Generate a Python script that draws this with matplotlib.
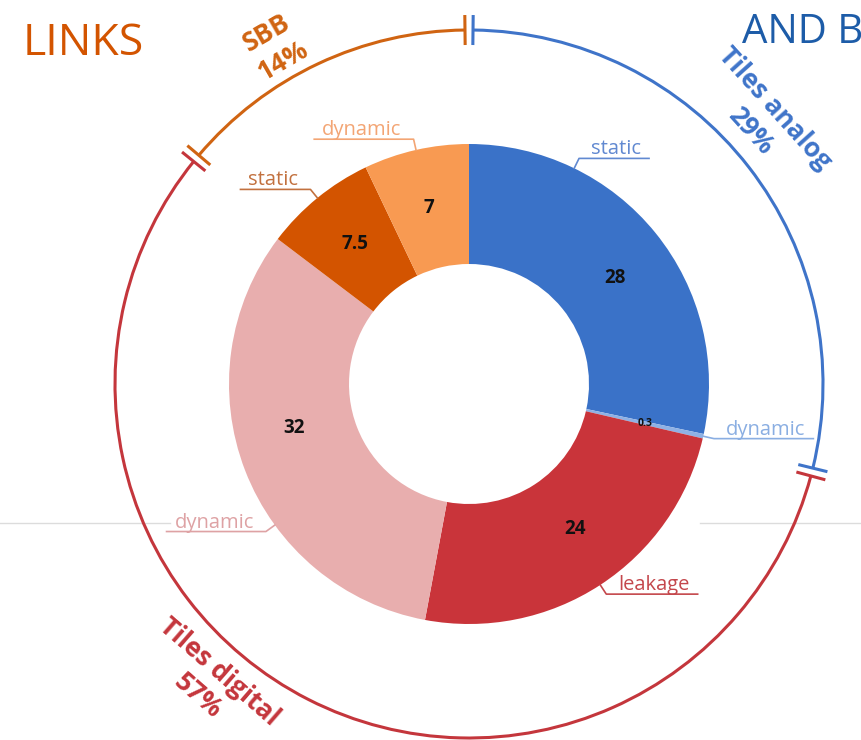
import matplotlib
matplotlib.use("Agg")
import matplotlib.pyplot as plt
import numpy as np
from matplotlib.lines import Line2D
from matplotlib.patches import Arc

# ---- power breakdown data ----
segment_values = [28, 0.3, 24, 32, 7.5, 7]
segment_value_labels = ["28", "0.3", "24", "32", "7.5", "7"]
segment_names = ["static", "dynamic", "leakage", "dynamic", "static", "dynamic"]
group_names = ["Tiles analog", "Tiles digital", "SBB"]
group_shares = [29, 57, 14]          # percent of total
group_share_labels = ["29%", "57%", "14%"]

# ---- styling ----
segment_colors = ["#3a72c8", "#8fb1e4", "#c9343a", "#e8aeae", "#d35400", "#f89a52"]
name_colors = ["#6189d1", "#8aaee2", "#c4474c", "#dea2a4", "#c2713f", "#f3a574"]
group_colors = ["#3f74c9", "#c4363c", "#d06412"]

W, H = 862, 740
CX, CY = 469, 356          # donut centre (y measured upward)
R_OUT, R_IN = 240, 120
R_ARC = 354

# where each side label's leader starts (None -> middle of the wedge)
leader_bearing = [26, None, None, 234, None, None]
value_shift = [3, 0, -3, 7, 0, 0]    # small angular nudges for the numbers
group_text_bearing = [48, 221, 330]
group_text_radius = [395, 397, 389]

FONT = ["Open Sans", "DejaVu Sans"]

fig = plt.figure(figsize=(W / 100, H / 100), dpi=100)
ax = fig.add_axes([0, 0, 1, 1])


def polar(bearing, r):
    b = np.radians(bearing)
    return CX + r * np.sin(b), CY + r * np.cos(b)


# faint horizontal rule behind the chart
ax.add_line(Line2D([0, 170], [H - 523, H - 523], color="#dcdcdc", lw=1.0, zorder=0))
ax.add_line(Line2D([700, W], [H - 523, H - 523], color="#dcdcdc", lw=1.0, zorder=0))

# ---- donut ----
ax.pie(segment_values, colors=segment_colors, startangle=90, counterclock=False,
       radius=R_OUT, center=(CX, CY),
       wedgeprops=dict(width=R_OUT - R_IN, linewidth=0))

total = float(sum(segment_values))
bounds = np.concatenate([[0], np.cumsum(segment_values)]) / total * 360.0
mids = (bounds[:-1] + bounds[1:]) / 2

# numbers inside the ring
for i, lab in enumerate(segment_value_labels):
    x, y = polar(mids[i] + value_shift[i], 180)
    small = segment_values[i] < 1
    ax.text(x, y, lab, ha="center", va="center", family=FONT, fontweight="bold",
            fontsize=7.5 if small else 13.5, color="#111111", zorder=5)

ax.set_xlim(0, W)
ax.set_ylim(0, H)
ax.set_aspect("equal")
ax.axis("off")

# side labels with elbow leader lines and underline
fig.canvas.draw()
renderer = fig.canvas.get_renderer()
for i, name in enumerate(segment_names):
    b = leader_bearing[i] if leader_bearing[i] is not None else mids[i]
    x0, y0 = polar(b, R_OUT)
    x1, y1 = polar(b, R_OUT + 11)
    right = np.sin(np.radians(b)) >= 0
    col = name_colors[i]
    pad_near, pad_far = 12, 8
    tx = x1 + pad_near if right else x1 - pad_near
    t = ax.text(tx, y1 + 4, name, ha="left" if right else "right", va="baseline",
                family=FONT, fontsize=14.5, color=col, zorder=5)
    bb = t.get_window_extent(renderer).transformed(ax.transData.inverted())
    x2 = bb.x1 + pad_far if right else bb.x0 - pad_far
    ax.add_line(Line2D([x0, x1, x2], [y0, y1, y1], color=col, lw=1.2, zorder=4))

# ---- outer group arcs with end ticks ----
gap = 0.65
gb = np.concatenate([[0], np.cumsum(group_shares)]) / float(sum(group_shares)) * 360.0
for i in range(len(group_names)):
    b0, b1 = gb[i] + gap, gb[i + 1] - gap
    col = group_colors[i]
    ax.add_patch(Arc((CX, CY), 2 * R_ARC, 2 * R_ARC, theta1=90 - b1, theta2=90 - b0,
                     color=col, lw=2.2, zorder=3))
    for b in (b0, b1):
        xa, ya = polar(b, R_ARC - 15)
        xb, yb = polar(b, R_ARC + 15)
        ax.add_line(Line2D([xa, xb], [ya, yb], color=col, lw=2.2,
                           solid_capstyle="butt", zorder=3))
    tb = group_text_bearing[i]
    tx, ty = polar(tb, group_text_radius[i])
    rot = -tb if np.cos(np.radians(tb)) >= 0 else 180 - tb
    ax.text(tx, ty, f"{group_names[i]}\n{group_share_labels[i]}", ha="center",
            va="center", rotation=rot, rotation_mode="anchor", family=FONT,
            fontweight="bold", fontsize=19, color=col, linespacing=1.25,
            multialignment="center", zorder=5)

# ---- slide headings ----
ax.text(23, H - 55, "LINKS", ha="left", va="baseline", family=FONT,
        fontsize=32, color="#d35400")
ax.text(742, H - 43, "AND B", ha="left", va="baseline", family=FONT,
        fontsize=29, color="#1d5ca8")

fig.savefig("out.png", dpi=100)
